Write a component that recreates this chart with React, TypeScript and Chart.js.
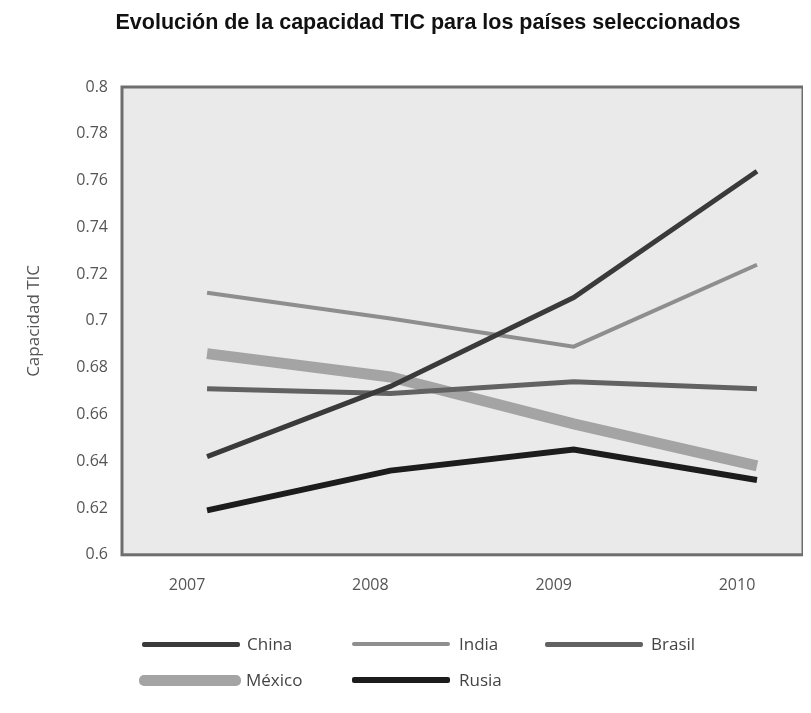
import React, { useEffect, useRef } from "react";
import { Chart, registerables } from "chart.js";

Chart.register(...registerables);

const years = [2007, 2008, 2009, 2010];
const yearLabels = ["2007", "2008", "2009", "2010"];
const china = [0.642, 0.672, 0.710, 0.764];
const india = [0.712, 0.701, 0.689, 0.724];
const brasil = [0.671, 0.669, 0.674, 0.671];
const mexico = [0.686, 0.676, 0.656, 0.638];
const rusia = [0.619, 0.636, 0.645, 0.632];

const seriesNames = ["China", "India", "Brasil", "México", "Rusia"];
const seriesColors = ["#3a3a3a", "#8e8e8e", "#626262", "#a4a4a4", "#1c1c1c"];
const seriesWidths = [5, 4, 5, 11, 6];

const plotFrame = {
  id: "plotFrame",
  beforeDatasetsDraw(chart: any) {
    const { ctx, chartArea: a } = chart;
    ctx.save();
    ctx.fillStyle = "#eaeaea";
    ctx.fillRect(a.left, a.top, a.right - a.left, a.bottom - a.top);
    ctx.restore();
  },
  afterDraw(chart: any) {
    const { ctx, chartArea: a } = chart;
    ctx.save();
    ctx.strokeStyle = "#6e6e6e";
    ctx.lineWidth = 3;
    ctx.strokeRect(a.left, a.top, a.right - a.left, a.bottom - a.top);
    ctx.restore();
  },
};

export default function App() {
  const ref = useRef<HTMLCanvasElement>(null);

  useEffect(() => {
    if (!ref.current) return;
    const all = [china, india, brasil, mexico, rusia];
    const orders = [1, 2, 3, 5, 0];
    const chart = new Chart(ref.current, {
      type: "line",
      data: {
        datasets: all.map((vals, i) => ({
          label: seriesNames[i],
          data: vals.map((v, j) => ({ x: years[j], y: v })),
          borderColor: seriesColors[i],
          backgroundColor: seriesColors[i],
          borderWidth: seriesWidths[i],
          pointRadius: 0,
          tension: 0,
          order: orders[i],
          borderCapStyle: "butt",
          borderJoinStyle: "miter",
        })),
      },
      options: {
        animation: false,
        responsive: false,
        maintainAspectRatio: false,
        layout: { padding: { top: 79, left: 0, right: 0, bottom: 89 } },
        plugins: {
          legend: { display: false },
          title: { display: false },
          tooltip: { enabled: false },
        },
        scales: {
          x: {
            type: "linear",
            min: 2006.536,
            max: 2010.251,
            grid: { display: false, drawTicks: false },
            border: { display: false },
            afterBuildTicks: (scale: any) => {
              scale.ticks = years.map((y) => ({ value: y }));
            },
            ticks: {
              padding: 21,
              labelOffset: -20,
              color: "#555",
              font: { family: "Open Sans", size: 16 },
              callback: (v: any) => yearLabels[years.indexOf(Number(v))] ?? "",
            },
          },
          y: {
            min: 0.6,
            max: 0.8,
            grid: { display: false, drawTicks: false },
            border: { display: false },
            afterFit: (scale: any) => {
              scale.width = 114;
            },
            ticks: {
              stepSize: 0.02,
              padding: 14,
              color: "#555",
              font: { family: "Open Sans", size: 16 },
              callback: (v: any) => String(Number(Number(v).toFixed(2))),
            },
            title: {
              display: true,
              text: "Capacidad TIC",
              color: "#555",
              font: { family: "Open Sans", size: 17 },
              padding: { top: 16, bottom: 4 },
            },
          },
        },
      },
      plugins: [plotFrame],
    });
    return () => chart.destroy();
  }, []);

  const legendRows = [
    [
      { i: 0, x: 142, w: 98, t: 247 },
      { i: 1, x: 352, w: 98, t: 459 },
      { i: 2, x: 545, w: 98, t: 651 },
    ],
    [
      { i: 3, x: 139, w: 102, t: 246 },
      { i: 4, x: 352, w: 98, t: 459 },
    ],
  ];
  const rowY = [644, 680];

  return (
    <div style={{ position: "relative", width: 795, height: 697 }}>
      <div
        style={{
          position: "absolute",
          left: 0,
          width: 856 - 16,
          top: 22 - 8 - 13,
          height: 26,
          lineHeight: "26px",
          textAlign: "center",
          fontFamily: "'Liberation Sans', Arial, sans-serif",
          fontWeight: "bold",
          fontSize: 21.5,
          color: "#111",
        }}
      >
        Evolución de la capacidad TIC para los países seleccionados
      </div>
      <canvas ref={ref} width={795} height={697} style={{ display: "block" }} />
      {legendRows.map((row, r) =>
        row.map((it) => (
          <React.Fragment key={it.i}>
            <div
              style={{
                position: "absolute",
                left: it.x - 8,
                width: it.w,
                top: rowY[r] - 8 - seriesWidths[it.i] / 2,
                height: seriesWidths[it.i],
                background: seriesColors[it.i],
                borderRadius: it.i === 3 ? 5 : 2,
              }}
            />
            <div
              style={{
                position: "absolute",
                left: it.t - 8,
                top: rowY[r] - 8 - 12,
                height: 24,
                lineHeight: "24px",
                fontFamily: "'Open Sans', sans-serif",
                fontSize: 17,
                color: "#444",
                whiteSpace: "nowrap",
              }}
            >
              {seriesNames[it.i]}
            </div>
          </React.Fragment>
        ))
      )}
    </div>
  );
}
